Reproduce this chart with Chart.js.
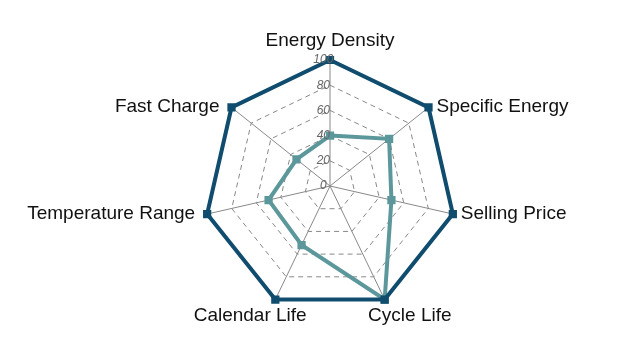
<!DOCTYPE html>
<html><head><meta charset="utf-8">
<script src="https://cdn.jsdelivr.net/npm/chart.js@4/dist/chart.umd.min.js"></script>
<style>html,body{margin:0;padding:0;background:#fff}#wrap{width:640px;height:360px}</style>
</head><body><div id="wrap"><canvas id="c" width="640" height="360"></canvas></div>
<script>
const categories = ["Energy Density","Specific Energy","Selling Price","Cycle Life","Calendar Life","Temperature Range","Fast Charge"];
const outerValues = [100,100,100,100,100,100,100];
const innerValues = [40,60,50,100,52,50,34];
const tickValues = [0,20,40,60,80,100];

const labelPlugin = {
  id: 'axisLabels',
  afterDraw(chart) {
    const s = chart.scales.r, ctx = chart.ctx;
    const n = chart.data.labels.length;
    ctx.save();
    ctx.font = '19px "Liberation Sans"';
    ctx.fillStyle = '#111';
    ctx.textBaseline = 'alphabetic';
    chart.data.labels.forEach((lab, i) => {
      const p = s.getPointPosition(i, s.drawingArea);
      const th = i * 2 * Math.PI / n;
      const sn = Math.sin(th), cs = Math.cos(th);
      let x, y;
      if (Math.abs(sn) < 0.01) { ctx.textAlign = 'center'; x = p.x; y = p.y - 14; }
      else if (cs < -0.5) { ctx.textAlign = 'center'; x = p.x + sn * 58; y = p.y + 21; }
      else if (sn > 0) { ctx.textAlign = 'left'; x = p.x + 8; y = p.y + 5; }
      else { ctx.textAlign = 'right'; x = p.x - 12; y = p.y + 5; }
      ctx.fillText(lab, x, y);
    });
    ctx.restore();
  }
};

new Chart(document.getElementById('c'), {
  type: 'radar',
  data: {
    labels: categories,
    datasets: [
      {data: outerValues, borderColor:'#0f4c6e', backgroundColor:'rgba(0,0,0,0)', borderWidth:4, pointStyle:'rect', pointRadius:3, pointBackgroundColor:'#0f4c6e', pointBorderColor:'#0f4c6e', fill:false},
      {data: innerValues, borderColor:'#5b979b', backgroundColor:'rgba(0,0,0,0)', borderWidth:4, pointStyle:'rect', pointRadius:3, pointBackgroundColor:'#5b979b', pointBorderColor:'#5b979b', fill:false}
    ]
  },
  plugins: [labelPlugin],
  options: {
    responsive:false, animation:false,
    layout:{padding:{left:20,right:0,top:52,bottom:40}},
    plugins:{legend:{display:false}, tooltip:{enabled:false}},
    scales:{
      r:{
        min:0, max:100,
        afterBuildTicks: s => { s.ticks = [{value:0, label:''}].concat(tickValues.map(v=>({value:v}))); },
        ticks:{ callback: v => v + '    ', font:{family:'Liberation Sans', size:12, style:'italic'}, color:'#666', showLabelBackdrop:false, z:1 },
        grid:{ color:'#888', lineWidth:1 },
        border:{ dash:[5,4] },
        angleLines:{ color:'#888', lineWidth:1 },
        pointLabels:{ display:false }
      }
    }
  }
});
</script></body></html>
